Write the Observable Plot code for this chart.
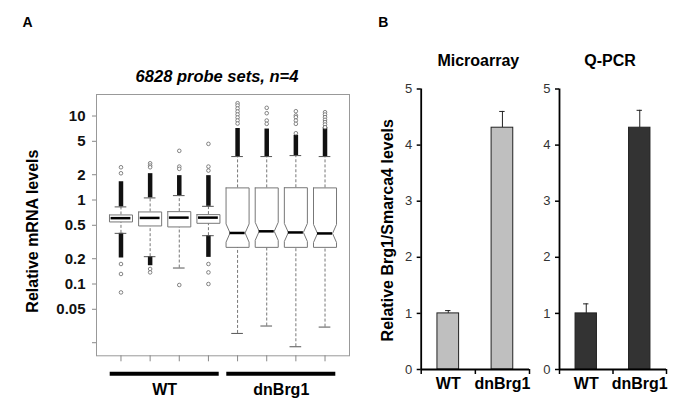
<!DOCTYPE html>
<html><head><meta charset="utf-8">
<script src="https://cdn.jsdelivr.net/npm/d3@7"></script>
<script src="https://cdn.jsdelivr.net/npm/@observablehq/plot@0.6"></script>
<style>
body{margin:0;background:#fff;}
#wrap{position:relative;width:685px;height:416px;overflow:hidden;background:#fff;}
</style></head><body><div id="wrap"></div>
<script>
// ---------- Panel A data (box plots, log scale) ----------
const boxIndex   = [1, 2, 3, 4, 5, 6, 7, 8];
const boxGroup   = ["WT", "WT", "WT", "WT", "dnBrg1", "dnBrg1", "dnBrg1", "dnBrg1"];
const boxQ1      = [0.548, 0.491, 0.478, 0.528, 0.273, 0.273, 0.273, 0.273];
const boxMedian  = [0.608, 0.612, 0.617, 0.617, 0.405, 0.424, 0.411, 0.400];
const boxQ3      = [0.664, 0.721, 0.727, 0.670, 1.394, 1.394, 1.40, 1.394];
const whiskerLo  = [0.401, 0.2115, 0.155, 0.376, 0.0258, 0.0316, 0.0179, 0.0307];
const whiskerHi  = [0.828, 1.059, 1.128, 0.841, 3.29, 3.29, 3.38, 3.29];
const notchLo    = [null, null, null, null, 0.315, 0.331, 0.321, 0.312];
const notchHi    = [null, null, null, null, 0.519, 0.542, 0.526, 0.512];
const denseHi    = [1.65, 2.06, 1.95, 1.95, 7.1, 7.0, 5.9, 7.3];
const denseLo    = [0.204, 0.165, null, 0.2075, null, null, null, null];
const outliers   = [
  [2.454, 2.081, 0.173, 0.1316, 0.0794],
  [2.737, 2.570, 2.454, 0.151, 0.1375],
  [3.85, 2.501, 2.348, 0.0973],
  [4.66, 2.501, 2.241, 0.173, 0.1375, 0.100],
  [14.21, 13.34, 12.29, 11.31, 10.42, 9.60, 8.84, 8.14],
  [12.52, 10.80, 8.84, 8.07],
  [11.41, 10.14, 9.68, 8.84, 8.07, 6.24],
  [11.10, 10.42, 9.68, 9.01, 8.44, 7.92, 7.35]
];
const groupNames  = ["WT", "dnBrg1"];
const yTickValsA  = [10, 5, 2, 1, 0.5, 0.2, 0.1, 0.05, 0.02];
const yTickLabsA  = ["10", "5", "2", "1", "0.5", "0.2", "0.1", "0.05", ""];
const titleA      = "6828 probe sets, n=4";
const yLabelA     = "Relative mRNA levels";

// ---------- Panel B data (bars) ----------
const barCats       = ["WT", "dnBrg1"];
const microValues   = [1.0, 4.31];
const microErrors   = [0.05, 0.29];
const qpcrValues    = [1.0, 4.31];
const qpcrErrors    = [0.17, 0.31];
const yTicksB       = [0, 1, 2, 3, 4, 5];
const yLabelB       = "Relative Brg1/Smarca4 levels";

const FONT = '"Liberation Sans", Arial, Helvetica, sans-serif';
const wrap = document.getElementById("wrap");
function place(svg, left) {
  svg.style.position = "absolute";
  svg.style.left = left + "px";
  svg.style.top = "0px";
  wrap.appendChild(svg);
}

// ---- Panel A ----
const yDomA = [0.01397, 18.04];
const HW = 0.395, INSET = 0.137, STAPLE = 0.2;
const boxes = boxIndex.map((c, i) => ({
  c, g: boxGroup[i], q1: boxQ1[i], med: boxMedian[i], q3: boxQ3[i],
  lo: whiskerLo[i], hi: whiskerHi[i], nLo: notchLo[i], nHi: notchHi[i],
  dHi: denseHi[i], dLo: denseLo[i]
}));
const poly = boxes.flatMap(b => {
  const L = b.c - HW, R = b.c + HW;
  const p = b.nLo == null
    ? [[L, b.q3], [R, b.q3], [R, b.q1], [L, b.q1], [L, b.q3]]
    : [[L, b.q3], [R, b.q3], [R, b.nHi], [R - INSET, b.med], [R, b.nLo], [R, b.q1],
       [L, b.q1], [L, b.nLo], [L + INSET, b.med], [L, b.nHi], [L, b.q3]];
  return p.map(([x, y]) => ({c: b.c, x, y}));
});
const outl = outliers.flatMap((arr, i) => arr.map(v => ({c: boxIndex[i], v})));
const groupData = groupNames.map(g => {
  const idx = boxIndex.filter((c, i) => boxGroup[i] === g);
  return {g, a: d3.min(idx), b: d3.max(idx)};
});
const yTicksA = yTickValsA.map((v, i) => ({v, t: yTickLabsA[i]}));

const plotA = Plot.plot({
  width: 360, height: 416,
  marginLeft: 96, marginRight: 11, marginTop: 94, marginBottom: 60.7,
  style: {background: "transparent", fontFamily: FONT, color: "#111", overflow: "visible"},
  x: {type: "linear", domain: [0.16, 8.84]},
  y: {type: "log", domain: yDomA},
  marks: [
    Plot.frame({stroke: "#999"}),
    Plot.axisY(yTickValsA, {tickFormat: () => "", tickSize: 4, stroke: "#888", label: null}),
    Plot.text(yTicksA, {y: "v", text: "t", frameAnchor: "left", dx: -11, textAnchor: "end",
      fontSize: 15, fontWeight: "bold", fill: "#111"}),
    Plot.axisX(boxIndex, {tickFormat: () => "", tickSize: 6, stroke: "#888", label: null}),
    Plot.ruleX(boxes, {x: "c", y1: "q3", y2: "hi", stroke: "#777", strokeDasharray: "3,2"}),
    Plot.ruleX(boxes, {x: "c", y1: "lo", y2: "q1", stroke: "#777", strokeDasharray: "3,2"}),
    Plot.ruleX(boxes.filter(b => b.dHi != null), {x: "c", y1: "hi", y2: "dHi", stroke: "#111", strokeWidth: 4.5}),
    Plot.ruleX(boxes.filter(b => b.dLo != null), {x: "c", y1: "lo", y2: "dLo", stroke: "#111", strokeWidth: 4.5}),
    Plot.dot(outl, {x: "c", y: "v", r: 1.8, stroke: "#666", fill: "white", strokeWidth: 0.8}),
    Plot.ruleY(boxes, {y: "hi", x1: b => b.c - STAPLE, x2: b => b.c + STAPLE, stroke: "#555"}),
    Plot.ruleY(boxes, {y: "lo", x1: b => b.c - STAPLE, x2: b => b.c + STAPLE, stroke: "#555"}),
    Plot.line(poly, {x: "x", y: "y", z: "c", stroke: "#777", fill: "white", strokeWidth: 1}),
    Plot.ruleY(boxes, {y: "med",
      x1: b => b.c - (b.nLo == null ? 0.34 : HW - INSET),
      x2: b => b.c + (b.nLo == null ? 0.34 : HW - INSET),
      stroke: "#000", strokeWidth: 2.5}),
    Plot.ruleY(groupData, {y: () => yDomA[0], x1: d => d.a - 0.37, x2: d => d.b + 0.37,
      dy: 18, stroke: "#000", strokeWidth: 4}),
    Plot.text(groupData, {x: d => (d.a + d.b) / 2, y: () => yDomA[0], dy: 34, text: "g",
      fontSize: 16, fontWeight: "bold", fill: "#000"}),
    Plot.text([titleA], {frameAnchor: "top", dx: -6, dy: -18, lineAnchor: "middle",
      fontSize: 16.5, fontWeight: "bold", fontStyle: "italic", fill: "#000"}),
    Plot.text(["A"], {frameAnchor: "top-left", dx: -69, dy: -72, textAnchor: "middle",
      lineAnchor: "middle", fontSize: 14, fontWeight: "bold", fill: "#000"}),
    Plot.text([yLabelA], {frameAnchor: "left", rotate: -90, dx: -63.3, dy: 6,
      textAnchor: "middle", lineAnchor: "middle", fontSize: 16, fontWeight: "bold", fill: "#000"})
  ]
});
place(plotA, 0);

// ---- Panel B ----
const BAR_HALF = 0.2, CAP = 0.05;
function barPanel({values, errors, fill, title, width, ml, mr, titleDx, extra}) {
  const data = barCats.map((c, i) => ({i, c, v: values[i], e: errors[i]}));
  return Plot.plot({
    width, height: 416,
    marginLeft: ml, marginRight: mr, marginTop: 88.5, marginBottom: 47,
    style: {background: "transparent", fontFamily: FONT, color: "#000", overflow: "visible"},
    x: {type: "linear", domain: [-0.5, 1.5]},
    y: {domain: [0, 5]},
    marks: [
      Plot.ruleX(data, {x: "i", y1: "v", y2: d => d.v + d.e, stroke: "#222"}),
      Plot.ruleY(data, {y: d => d.v + d.e, x1: d => d.i - CAP, x2: d => d.i + CAP, stroke: "#222"}),
      Plot.rect(data, {x1: d => d.i - BAR_HALF, x2: d => d.i + BAR_HALF, y1: 0, y2: "v",
        fill, stroke: "#222", strokeWidth: 1}),
      Plot.ruleY([0], {stroke: "#000", strokeWidth: 1.8}),
      Plot.ruleX([-0.5], {stroke: "#000", strokeWidth: 1.8}),
      Plot.axisY(yTicksB, {tickFormat: d => String(d), tickSize: 4, tickPadding: 5, fontSize: 13,
        fill: "#333", stroke: "#000", strokeWidth: 1.5, label: null}),
      Plot.axisX([-0.5, 0.5, 1.5], {tickFormat: () => "", tickSize: 5, stroke: "#000",
        strokeWidth: 1.5, label: null}),
      Plot.axisX([0, 1], {tickFormat: i => barCats[i], tickSize: 0, tickPadding: 8,
        fontSize: 16, fontWeight: "bold", fill: "#000", label: null}),
      Plot.text([title], {frameAnchor: "top", dx: titleDx, dy: -28.5, lineAnchor: "middle",
        fontSize: 16, fontWeight: "bold", fill: "#000"}),
      ...extra
    ]
  });
}
const plotB1 = barPanel({
  values: microValues, errors: microErrors, fill: "#bfbfbf", title: "Microarray",
  width: 175, ml: 60.7, mr: 6, titleDx: 3,
  extra: [
    Plot.text(["B"], {frameAnchor: "top-left", dx: -38, dy: -66.5, textAnchor: "middle",
      lineAnchor: "middle", fontSize: 14, fontWeight: "bold", fill: "#000"}),
    Plot.text([yLabelB], {frameAnchor: "left", rotate: -90, dx: -33.7, dy: 1,
      textAnchor: "middle", lineAnchor: "middle", fontSize: 16, fontWeight: "bold", fill: "#000"})
  ]
});
place(plotB1, 360);
const plotB2 = barPanel({
  values: qpcrValues, errors: qpcrErrors, fill: "#333333", title: "Q-PCR",
  width: 150, ml: 24, mr: 19, titleDx: -3, extra: []
});
place(plotB2, 535);
</script>
</body></html>
